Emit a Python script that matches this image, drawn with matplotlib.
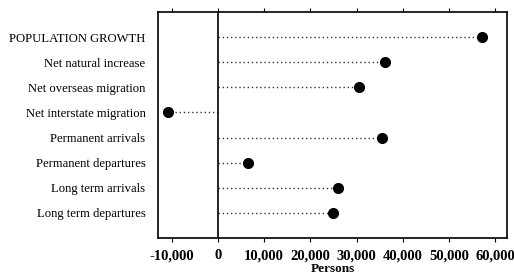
import matplotlib
matplotlib.use("Agg")
import matplotlib.pyplot as plt

categories = ["POPULATION GROWTH", "Net natural increase", "Net overseas migration",
              "Net interstate migration", "Permanent arrivals", "Permanent departures",
              "Long term arrivals", "Long term departures"]
values = [57100, 36100, 30500, -10800, 35600, 6500, 26000, 24900]
xticks = [-10000, 0, 10000, 20000, 30000, 40000, 50000, 60000]
xticklabels = ["-10,000", "0", "10,000", "20,000", "30,000", "40,000", "50,000", "60,000"]

plt.rcParams['font.family'] = ['Liberation Serif', 'DejaVu Serif']

fig = plt.figure(figsize=(5.14, 2.78), dpi=100)
ax = fig.add_axes([158/514, 1-238/278, (507-158)/514, (238-12)/278])

ys = list(range(len(categories)))
for y, v in zip(ys, values):
    ax.plot([0, v], [y, y], linestyle=(0, (1, 2)), color='#333333', linewidth=1.0)
ax.plot(values, ys, 'o', color='black', markersize=7)
ax.axvline(0, color='black', linewidth=1.2)

ax.set_ylim(len(categories), -1)
ax.set_xlim(-13000, 62600)
ax.set_yticks(ys)
ax.set_yticklabels(categories, fontsize=9.1)
ax.tick_params(axis='y', length=0, pad=9)
ax.set_xticks(xticks)
ax.set_xticklabels(xticklabels, fontsize=10.5, fontweight='bold')
ax.tick_params(axis='x', direction='out', length=3, width=0.8, top=True, pad=5)
ax.set_xlabel("Persons", fontsize=9.5, fontweight='bold', labelpad=1)
for s in ax.spines.values():
    s.set_linewidth(1.2)

fig.savefig("out.png", dpi=100)
